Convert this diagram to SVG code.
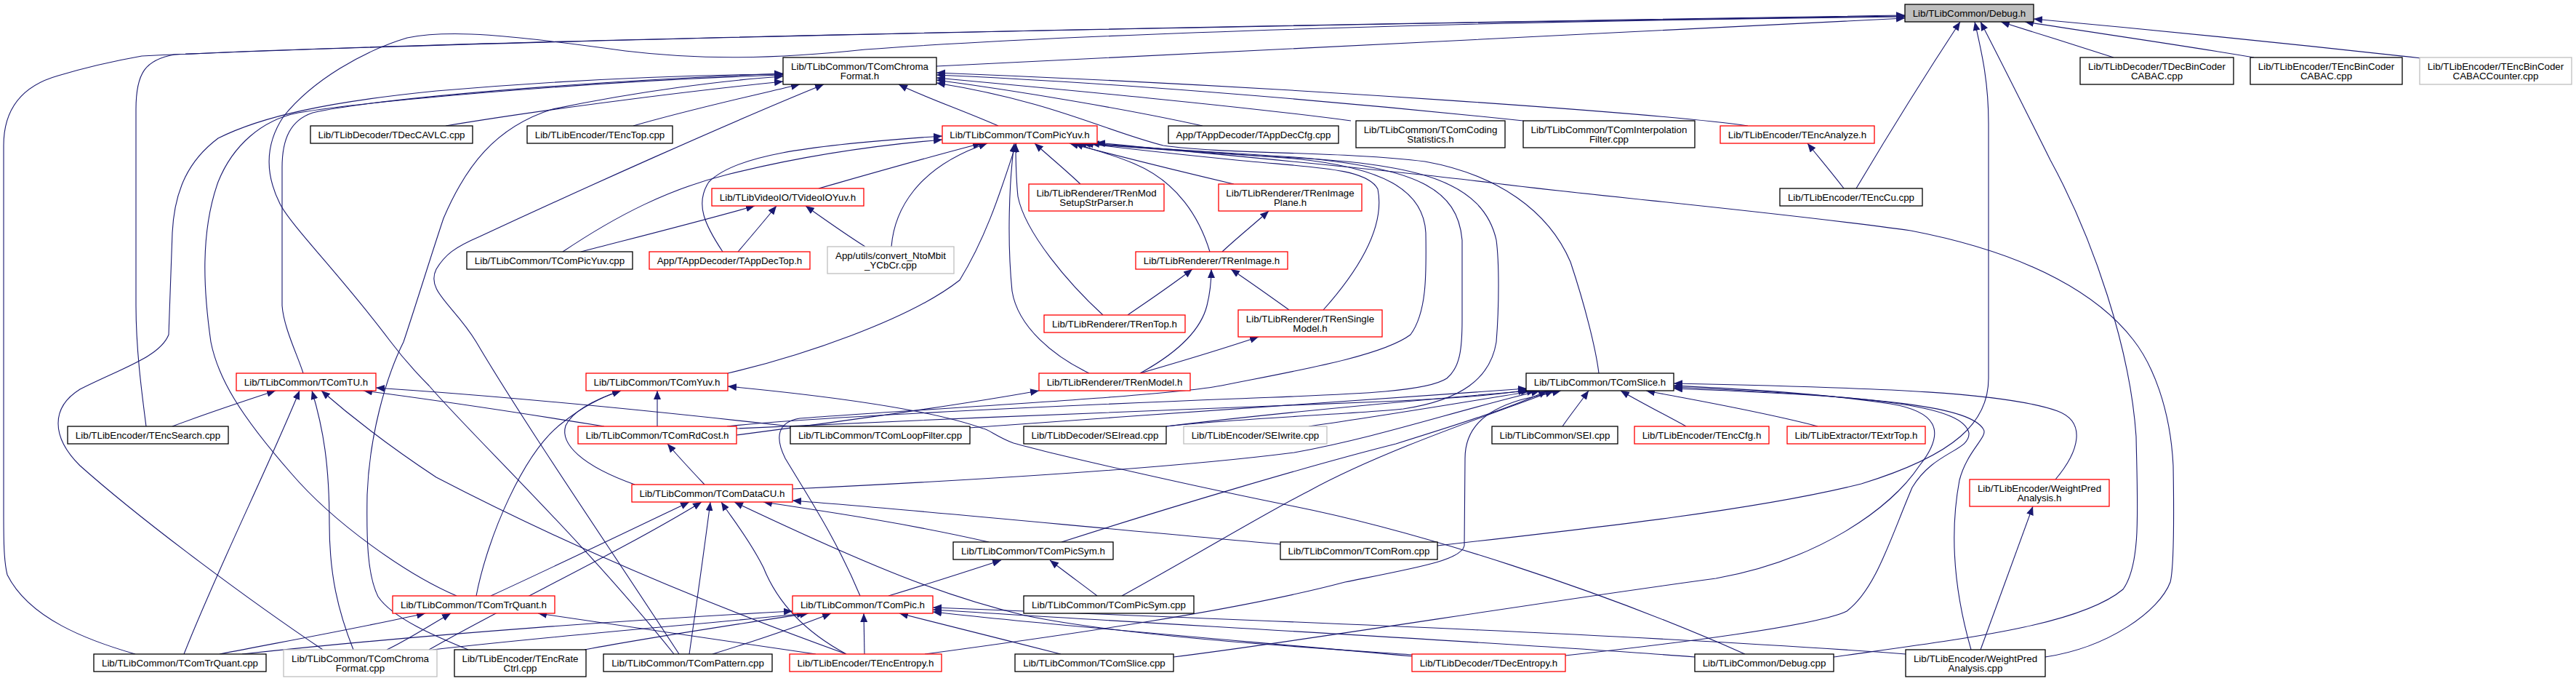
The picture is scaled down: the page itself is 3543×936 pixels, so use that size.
<svg xmlns="http://www.w3.org/2000/svg" width="3543" height="936" viewBox="0 0 3543 936">
<style>
.n rect{fill:#fff;stroke:#000;stroke-width:1.3}
.n.r rect{stroke:#ff0000}
.n.g rect{stroke:#bfbfbf}
.n.h rect{fill:#bfbfbf;stroke:#000}
.n text{font-family:"Liberation Sans",Arial,Helvetica,sans-serif;font-size:13.33px;text-anchor:middle;fill:#000}
#edges path{fill:none;stroke:#191970;stroke-width:1.1;marker-end:url(#a)}
</style>
<defs>
<marker id="a" markerUnits="userSpaceOnUse" markerWidth="12" markerHeight="10" refX="12" refY="5" orient="auto" viewBox="0 0 12 10"><path d="M0,0 L12,5 L0,10 z" fill="#191970"/></marker>
</defs>
<rect width="3543" height="936" fill="#fff"/>
<g id="edges">
<path d="M1288,91 C1700,72 2200,45 2620,25"/>
<path d="M2907,79 C2860,64 2800,45 2752,30"/>
<path d="M3100,79 C3000,62 2880,45 2785,30"/>
<path d="M3330,80 C3150,60 2950,40 2797,26"/>
<path d="M2553,259 C2600,180 2650,100 2696,30"/>
<path d="M1977,750 C2200,725 2420,700 2560,665 C2690,625 2735,580 2735,520 L2735,170 C2735,110 2725,70 2716,30"/>
<path d="M2522,903 C2700,878 2860,860 2920,810 C2945,775 2940,700 2938,600 C2930,480 2880,330 2820,220 C2780,140 2750,80 2724,30"/>
<path d="M201,586 C195,540 187,480 187,420 L187,150 C187,100 200,82 240,75 C600,58 1500,38 2620,21"/>
<path d="M186,899 C120,880 40,850 10,790 C5,770 5,740 5,700 L5,200 C5,150 30,118 80,104 C120,92 150,85 195,77 C600,58 1500,38 2620,22"/>
<path d="M927,899 C800,740 650,600 590,530 C560,500 545,480 536,468 C470,380 400,310 385,280 C360,230 370,190 390,160 C430,110 500,70 560,52 C620,40 700,48 860,70 C960,82 1060,82 1190,68 C1500,45 2100,28 2620,23"/>
<path d="M613,173 C750,150 950,125 1077,112"/>
<path d="M871,173 C950,150 1050,128 1100,116"/>
<path d="M1373,173 C1320,150 1270,133 1236,116"/>
<path d="M1654,173 C1550,150 1400,125 1288,110"/>
<path d="M1858,166 C1700,145 1450,122 1288,107"/>
<path d="M2095,166 C1800,135 1500,112 1288,103"/>
<path d="M2404,173 C2300,158 1800,120 1288,100"/>
<path d="M2199,513 C2195,480 2180,420 2160,360 C2130,290 2060,240 1960,222 C1850,208 1680,212 1600,200 C1520,180 1450,140 1288,114"/>
<path d="M417,513 C410,490 390,450 388,420 L388,230 C388,190 400,165 430,155 C520,135 800,112 1077,101"/>
<path d="M444,893 C350,830 200,720 110,640 C70,600 70,560 110,535 C170,505 220,490 232,460 L237,320 C240,260 260,220 300,190 C360,160 450,140 600,125 C800,108 950,103 1077,102"/>
<path d="M628,819 C560,790 460,720 400,650 C330,570 300,520 290,470 C280,400 275,320 300,250 C320,200 360,165 410,155 C500,140 800,112 1077,103"/>
<path d="M644,893 C600,875 540,850 520,820 C505,790 504,740 505,680 C508,600 530,520 555,470 C575,410 590,360 610,300 C640,230 680,175 760,150 C880,125 1000,110 1077,105"/>
<path d="M934,899 C830,740 720,580 655,470 C625,420 585,400 600,370 C612,350 625,340 660,325 C800,260 1000,170 1133,116"/>
<path d="M1126,259 C1200,238 1280,215 1350,197"/>
<path d="M774,346 C850,295 920,260 1000,240 C1100,215 1200,200 1296,192"/>
<path d="M994,346 C970,310 955,280 975,250 C1010,215 1100,200 1296,187"/>
<path d="M1226,339 C1230,290 1260,230 1358,197"/>
<path d="M1001,513 C1100,490 1250,440 1320,385 C1360,320 1380,250 1398,197"/>
<path d="M1486,253 C1465,233 1443,215 1423,197"/>
<path d="M1697,253 C1620,235 1540,215 1471,197"/>
<path d="M1517,433 C1470,390 1410,320 1400,270 C1397,240 1397,220 1397,197"/>
<path d="M1498,513 C1450,490 1400,450 1392,400 C1385,330 1388,250 1395,197"/>
<path d="M1664,346 C1650,300 1620,250 1560,225 C1530,212 1500,205 1478,197"/>
<path d="M1820,426 C1870,370 1905,310 1895,260 C1880,230 1800,230 1700,220 C1600,210 1530,202 1492,197"/>
<path d="M1183,819 C1150,740 1110,680 1080,630 C1065,600 1070,580 1100,575 C1300,560 1600,545 1680,530 C1780,510 1900,490 1940,460 C1962,430 1962,380 1961,320 C1958,260 1900,230 1780,218 C1650,208 1560,202 1500,197"/>
<path d="M2813,903 C2900,890 2970,840 2985,800 C2990,780 2990,700 2989,640 C2985,560 2960,500 2934,467 C2890,410 2800,350 2628,317 C2450,292 2200,270 2057,252 C1900,232 1700,215 1508,196"/>
<path d="M1604,586 C1700,575 1850,570 1930,562 C2010,550 2050,520 2058,470 C2062,420 2062,360 2058,330 C2040,250 1950,225 1780,217 C1650,210 1560,203 1488,197"/>
<path d="M1000,586 C1100,575 1400,560 1700,548 C1850,542 1960,540 1990,520 C2008,505 2011,480 2011,440 L2011,330 C2005,260 1950,230 1780,216 C1650,208 1560,202 1482,197"/>
<path d="M237,586 C285,568 330,553 379,537"/>
<path d="M253,899 C300,780 370,640 412,537"/>
<path d="M486,893 C465,840 453,790 453,720 C453,640 445,590 429,537"/>
<path d="M1164,899 C1000,840 800,760 600,656 C530,610 480,570 442,537"/>
<path d="M1087,586 C900,565 700,545 517,533"/>
<path d="M831,586 C700,565 600,550 500,537"/>
<path d="M904,586 L904,537"/>
<path d="M873,666 C800,640 770,610 778,585 C790,560 830,545 854,537"/>
<path d="M655,819 C670,740 720,620 775,580 C800,560 830,545 854,537"/>
<path d="M2400,899 C2200,810 1950,730 1780,696 C1650,670 1450,625 1394,609 C1370,600 1360,590 1352,589 C1300,570 1200,550 1001,531"/>
<path d="M1681,346 C1700,328 1725,308 1745,290"/>
<path d="M1551,433 C1580,413 1610,393 1640,370"/>
<path d="M1568,513 C1610,490 1650,460 1660,420 C1665,400 1666,385 1666,370"/>
<path d="M1773,426 C1745,406 1720,388 1693,370"/>
<path d="M1568,513 C1620,498 1680,480 1731,463"/>
<path d="M1013,598 C1150,580 1300,560 1429,537"/>
<path d="M799,346 C880,325 960,305 1038,283"/>
<path d="M1015,346 C1033,325 1050,305 1068,283"/>
<path d="M1190,339 C1160,320 1135,302 1108,283"/>
<path d="M2536,259 C2520,238 2503,218 2486,197"/>
<path d="M969,666 C952,648 935,630 918,610"/>
<path d="M675,819 C760,780 860,732 948,690"/>
<path d="M590,893 C700,830 850,760 965,690"/>
<path d="M948,899 C958,830 968,760 977,690"/>
<path d="M1164,899 C1110,870 1070,830 1050,780 C1030,740 1005,710 992,690"/>
<path d="M1942,900 C1800,890 1550,875 1410,846 C1300,820 1200,780 1010,690"/>
<path d="M1360,745 C1250,720 1150,705 1050,690"/>
<path d="M1761,748 C1500,725 1250,700 1090,688"/>
<path d="M1090,672 C1300,662 1600,645 1780,622 C1900,600 2000,565 2118,537"/>
<path d="M1460,745 C1600,700 1800,640 1920,610 C2000,585 2080,560 2128,537"/>
<path d="M1543,819 C1650,760 1750,700 1800,675 C1900,620 2050,570 2137,537"/>
<path d="M1272,899 C1450,875 1700,840 1850,800 C1950,780 2010,770 2014,750 L2015,630 C2015,590 2040,565 2090,550 C2110,545 2130,541 2147,537"/>
<path d="M1013,589 C1300,575 1700,560 1900,552 C2000,548 2060,543 2100,536"/>
<path d="M1333,588 C1600,568 1900,550 2100,534"/>
<path d="M1604,586 C1750,568 1950,550 2104,537"/>
<path d="M1800,586 C1900,572 2000,555 2112,537"/>
<path d="M2149,586 C2160,570 2172,555 2185,537"/>
<path d="M2319,586 C2290,570 2260,555 2229,537"/>
<path d="M2500,586 C2420,565 2330,550 2264,537"/>
<path d="M2827,659 C2860,620 2870,580 2830,565 C2760,540 2600,533 2302,527"/>
<path d="M1614,903 C1800,880 2100,830 2360,795 C2500,770 2600,700 2640,640 C2680,590 2660,565 2600,555 C2500,540 2400,535 2302,530"/>
<path d="M2153,901 C2300,885 2500,860 2540,840 C2580,810 2600,740 2630,670 C2660,620 2710,620 2708,595 C2700,560 2600,545 2302,532"/>
<path d="M2711,893 C2690,820 2680,740 2695,660 C2705,620 2735,600 2728,590 C2710,560 2600,545 2302,534"/>
<path d="M2724,893 C2748,828 2772,763 2796,696"/>
<path d="M1222,819 C1275,803 1325,787 1377,770"/>
<path d="M1509,819 C1488,803 1466,787 1444,770"/>
<path d="M302,899 C400,880 500,862 585,843"/>
<path d="M532,893 C560,880 590,860 620,843"/>
<path d="M1122,899 C1000,880 870,862 740,843"/>
<path d="M333,899 C600,870 900,850 1090,840"/>
<path d="M595,893 C800,870 1000,855 1108,843"/>
<path d="M804,893 C900,875 1000,860 1112,843"/>
<path d="M980,899 C1035,882 1090,864 1143,843"/>
<path d="M1189,899 L1188,843"/>
<path d="M1459,899 C1385,880 1310,862 1237,843"/>
<path d="M1942,902 C1700,880 1450,860 1283,841"/>
<path d="M2331,903 C2100,885 1600,858 1283,838"/>
<path d="M2621,899 C2300,875 1800,855 1283,835"/>
</g>
<g id="n0" class="n h"><rect x="2620" y="6" width="177" height="24"/><text x="2708.5" y="23">Lib/TLibCommon/Debug.h</text></g>
<g id="n1" class="n"><rect x="1077" y="79" width="211" height="37"/><text x="1182.5" y="96">Lib/TLibCommon/TComChroma</text><text x="1182.5" y="109">Format.h</text></g>
<g id="n2" class="n"><rect x="2861" y="79" width="211" height="37"/><text x="2966.5" y="96">Lib/TLibDecoder/TDecBinCoder</text><text x="2966.5" y="109">CABAC.cpp</text></g>
<g id="n3" class="n"><rect x="3095" y="79" width="209" height="37"/><text x="3199.5" y="96">Lib/TLibEncoder/TEncBinCoder</text><text x="3199.5" y="109">CABAC.cpp</text></g>
<g id="n4" class="n g"><rect x="3328" y="79" width="209" height="37"/><text x="3432.5" y="96">Lib/TLibEncoder/TEncBinCoder</text><text x="3432.5" y="109">CABACCounter.cpp</text></g>
<g id="n5" class="n"><rect x="427" y="173" width="223" height="24"/><text x="538.5" y="190">Lib/TLibDecoder/TDecCAVLC.cpp</text></g>
<g id="n6" class="n"><rect x="725" y="173" width="200" height="24"/><text x="825" y="190">Lib/TLibEncoder/TEncTop.cpp</text></g>
<g id="n7" class="n r"><rect x="1296" y="173" width="213" height="24"/><text x="1402.5" y="190">Lib/TLibCommon/TComPicYuv.h</text></g>
<g id="n8" class="n"><rect x="1607" y="173" width="234" height="24"/><text x="1724" y="190">App/TAppDecoder/TAppDecCfg.cpp</text></g>
<g id="n9" class="n"><rect x="1865" y="166" width="205" height="37"/><text x="1967.5" y="183">Lib/TLibCommon/TComCoding</text><text x="1967.5" y="196">Statistics.h</text></g>
<g id="n10" class="n"><rect x="2095" y="166" width="236" height="37"/><text x="2213" y="183">Lib/TLibCommon/TComInterpolation</text><text x="2213" y="196">Filter.cpp</text></g>
<g id="n11" class="n r"><rect x="2366" y="173" width="212" height="24"/><text x="2472" y="190">Lib/TLibEncoder/TEncAnalyze.h</text></g>
<g id="n12" class="n r"><rect x="979" y="259" width="209" height="24"/><text x="1083.5" y="276">Lib/TLibVideoIO/TVideoIOYuv.h</text></g>
<g id="n13" class="n r"><rect x="1415" y="253" width="186" height="37"/><text x="1508" y="270">Lib/TLibRenderer/TRenMod</text><text x="1508" y="283">SetupStrParser.h</text></g>
<g id="n14" class="n r"><rect x="1676" y="253" width="197" height="37"/><text x="1774.5" y="270">Lib/TLibRenderer/TRenImage</text><text x="1774.5" y="283">Plane.h</text></g>
<g id="n15" class="n"><rect x="2448" y="259" width="196" height="24"/><text x="2546" y="276">Lib/TLibEncoder/TEncCu.cpp</text></g>
<g id="n16" class="n"><rect x="642" y="346" width="228" height="24"/><text x="756" y="363">Lib/TLibCommon/TComPicYuv.cpp</text></g>
<g id="n17" class="n r"><rect x="893" y="346" width="221" height="24"/><text x="1003.5" y="363">App/TAppDecoder/TAppDecTop.h</text></g>
<g id="n18" class="n g"><rect x="1138" y="339" width="174" height="37"/><text x="1225" y="356">App/utils/convert_NtoMbit</text><text x="1225" y="369">_YCbCr.cpp</text></g>
<g id="n19" class="n r"><rect x="1562" y="346" width="209" height="24"/><text x="1666.5" y="363">Lib/TLibRenderer/TRenImage.h</text></g>
<g id="n20" class="n r"><rect x="1436" y="433" width="194" height="24"/><text x="1533" y="450">Lib/TLibRenderer/TRenTop.h</text></g>
<g id="n21" class="n r"><rect x="1703" y="426" width="198" height="37"/><text x="1802" y="443">Lib/TLibRenderer/TRenSingle</text><text x="1802" y="456">Model.h</text></g>
<g id="n22" class="n r"><rect x="325" y="513" width="192" height="24"/><text x="421" y="530">Lib/TLibCommon/TComTU.h</text></g>
<g id="n23" class="n r"><rect x="806" y="513" width="195" height="24"/><text x="903.5" y="530">Lib/TLibCommon/TComYuv.h</text></g>
<g id="n24" class="n r"><rect x="1429" y="513" width="208" height="24"/><text x="1533" y="530">Lib/TLibRenderer/TRenModel.h</text></g>
<g id="n25" class="n"><rect x="2099" y="513" width="203" height="24"/><text x="2200.5" y="530">Lib/TLibCommon/TComSlice.h</text></g>
<g id="n26" class="n"><rect x="93" y="586" width="221" height="24"/><text x="203.5" y="603">Lib/TLibEncoder/TEncSearch.cpp</text></g>
<g id="n27" class="n r"><rect x="795" y="586" width="218" height="24"/><text x="904" y="603">Lib/TLibCommon/TComRdCost.h</text></g>
<g id="n28" class="n"><rect x="1087" y="586" width="247" height="24"/><text x="1210.5" y="603">Lib/TLibCommon/TComLoopFilter.cpp</text></g>
<g id="n29" class="n"><rect x="1408" y="586" width="196" height="24"/><text x="1506" y="603">Lib/TLibDecoder/SEIread.cpp</text></g>
<g id="n30" class="n g"><rect x="1628" y="586" width="197" height="24"/><text x="1726.5" y="603">Lib/TLibEncoder/SEIwrite.cpp</text></g>
<g id="n31" class="n"><rect x="2052" y="586" width="173" height="24"/><text x="2138.5" y="603">Lib/TLibCommon/SEI.cpp</text></g>
<g id="n32" class="n r"><rect x="2248" y="586" width="185" height="24"/><text x="2340.5" y="603">Lib/TLibEncoder/TEncCfg.h</text></g>
<g id="n33" class="n r"><rect x="2458" y="586" width="190" height="24"/><text x="2553" y="603">Lib/TLibExtractor/TExtrTop.h</text></g>
<g id="n34" class="n r"><rect x="869" y="666" width="221" height="24"/><text x="979.5" y="683">Lib/TLibCommon/TComDataCU.h</text></g>
<g id="n35" class="n r"><rect x="2709" y="659" width="192" height="37"/><text x="2805" y="676">Lib/TLibEncoder/WeightPred</text><text x="2805" y="689">Analysis.h</text></g>
<g id="n36" class="n"><rect x="1311" y="745" width="220" height="24"/><text x="1421" y="762">Lib/TLibCommon/TComPicSym.h</text></g>
<g id="n37" class="n"><rect x="1761" y="745" width="216" height="24"/><text x="1869" y="762">Lib/TLibCommon/TComRom.cpp</text></g>
<g id="n38" class="n r"><rect x="540" y="819" width="223" height="24"/><text x="651.5" y="836">Lib/TLibCommon/TComTrQuant.h</text></g>
<g id="n39" class="n r"><rect x="1090" y="819" width="193" height="24"/><text x="1186.5" y="836">Lib/TLibCommon/TComPic.h</text></g>
<g id="n40" class="n"><rect x="1408" y="819" width="234" height="24"/><text x="1525" y="836">Lib/TLibCommon/TComPicSym.cpp</text></g>
<g id="n41" class="n"><rect x="129" y="899" width="237" height="24"/><text x="247.5" y="916">Lib/TLibCommon/TComTrQuant.cpp</text></g>
<g id="n42" class="n g"><rect x="390" y="893" width="211" height="37"/><text x="495.5" y="910">Lib/TLibCommon/TComChroma</text><text x="495.5" y="923">Format.cpp</text></g>
<g id="n43" class="n"><rect x="625" y="893" width="181" height="37"/><text x="715.5" y="910">Lib/TLibEncoder/TEncRate</text><text x="715.5" y="923">Ctrl.cpp</text></g>
<g id="n44" class="n"><rect x="830" y="899" width="232" height="24"/><text x="946" y="916">Lib/TLibCommon/TComPattern.cpp</text></g>
<g id="n45" class="n r"><rect x="1086" y="899" width="209" height="24"/><text x="1190.5" y="916">Lib/TLibEncoder/TEncEntropy.h</text></g>
<g id="n46" class="n"><rect x="1396" y="899" width="218" height="24"/><text x="1505" y="916">Lib/TLibCommon/TComSlice.cpp</text></g>
<g id="n47" class="n r"><rect x="1942" y="899" width="211" height="24"/><text x="2047.5" y="916">Lib/TLibDecoder/TDecEntropy.h</text></g>
<g id="n48" class="n"><rect x="2331" y="899" width="191" height="24"/><text x="2426.5" y="916">Lib/TLibCommon/Debug.cpp</text></g>
<g id="n49" class="n"><rect x="2621" y="893" width="192" height="37"/><text x="2717" y="910">Lib/TLibEncoder/WeightPred</text><text x="2717" y="923">Analysis.cpp</text></g>
</svg>
